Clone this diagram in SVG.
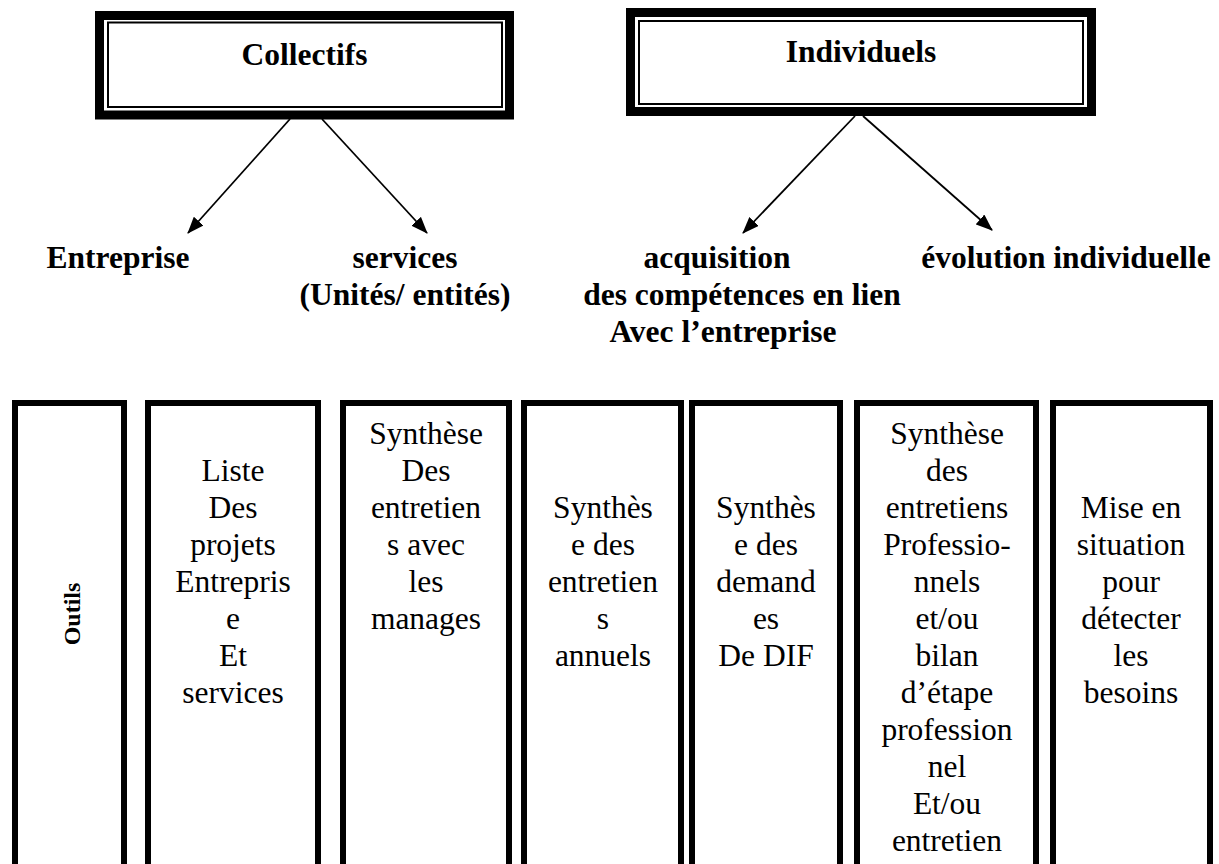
<svg xmlns="http://www.w3.org/2000/svg" width="1219" height="864" viewBox="0 0 1219 864">
<style>
.bg{fill:#fff}
.thick{fill:none;stroke:#000;stroke-width:9}
.thin{fill:none;stroke:#000;stroke-width:2}
.col{fill:none;stroke:#000;stroke-width:6}
.title{font-family:"Liberation Serif","Times New Roman",serif;font-weight:bold;font-size:31.5px;text-anchor:middle}
.lbl{font-family:"Liberation Serif","Times New Roman",serif;font-weight:bold;font-size:31.5px;text-anchor:middle}
.vert{font-family:"Liberation Serif","Times New Roman",serif;font-weight:bold;font-size:24px;text-anchor:middle}
.ct{font-family:"Liberation Serif","Times New Roman",serif;font-size:31.5px;text-anchor:middle}
.conn{stroke:#000;stroke-width:1.8;fill:none;marker-end:url(#ah)}
</style>
<defs>
<marker id="ah" markerWidth="17" markerHeight="13" refX="16" refY="6.5" orient="auto" markerUnits="userSpaceOnUse">
<path d="M0,0 L17,6.5 L0,13 Z" fill="#000"/>
</marker>
</defs>
<rect class="bg" x="0" y="0" width="1219" height="864"/>
<g id="collectifs">
<rect class="thick" x="99.5" y="15.5" width="410" height="99.5"/>
<rect class="thin" x="108" y="22.5" width="394" height="84.5"/>
<text class="title" x="304.5" y="65">Collectifs</text>
</g>
<g id="individuels">
<rect class="thick" x="630.5" y="12.5" width="461" height="99"/>
<rect class="thin" x="639" y="21" width="444" height="83"/>
<text class="title" x="861" y="62">Individuels</text>
</g>
<g id="connectors">
<line class="conn" x1="290" y1="119" x2="188" y2="233"/>
<line class="conn" x1="322" y1="119" x2="427" y2="233"/>
<line class="conn" x1="855" y1="116" x2="743" y2="233"/>
<line class="conn" x1="863" y1="116" x2="992" y2="230"/>
</g>
<g id="entreprise"><text class="lbl" x="118" y="268">Entreprise</text></g>
<g id="services"><text class="lbl" x="405" y="268">services</text><text class="lbl" x="405" y="305">(Unités/ entités)</text></g>
<g id="acquisition"><text class="lbl" x="717" y="268">acquisition</text><text class="lbl" x="742" y="305">des compétences en lien</text><text class="lbl" x="723" y="342">Avec l’entreprise</text></g>
<g id="evolution"><text class="lbl" x="1066" y="268">évolution individuelle</text></g>
<g id="outils">
<rect class="col" x="15" y="403" width="109" height="500"/>
<text class="vert" transform="translate(80,614) rotate(-90)">Outils</text>
</g>
<g id="liste">
<rect class="col" x="148" y="403" width="170" height="500"/>
<text class="ct"><tspan x="233" y="481">Liste</tspan><tspan x="233" y="518">Des</tspan><tspan x="233" y="555">projets</tspan><tspan x="233" y="592">Entrepris</tspan><tspan x="233" y="629">e</tspan><tspan x="233" y="666">Et</tspan><tspan x="233" y="703">services</tspan></text>
</g>
<g id="synthese-managers">
<rect class="col" x="343" y="403" width="166" height="500"/>
<text class="ct"><tspan x="426" y="444">Synthèse</tspan><tspan x="426" y="481">Des</tspan><tspan x="426" y="518">entretien</tspan><tspan x="426" y="555">s avec</tspan><tspan x="426" y="592">les</tspan><tspan x="426" y="629">manages</tspan></text>
</g>
<g id="synthese-annuels">
<rect class="col" x="524" y="403" width="157" height="500"/>
<text class="ct"><tspan x="603" y="518">Synthès</tspan><tspan x="603" y="555">e des</tspan><tspan x="603" y="592">entretien</tspan><tspan x="603" y="629">s</tspan><tspan x="603" y="666">annuels</tspan></text>
</g>
<g id="synthese-dif">
<rect class="col" x="692" y="403" width="148" height="500"/>
<text class="ct"><tspan x="766" y="518">Synthès</tspan><tspan x="766" y="555">e des</tspan><tspan x="766" y="592">demand</tspan><tspan x="766" y="629">es</tspan><tspan x="766" y="666">De DIF</tspan></text>
</g>
<g id="synthese-pro">
<rect class="col" x="857" y="403" width="179" height="500"/>
<text class="ct"><tspan x="947" y="444">Synthèse</tspan><tspan x="947" y="481">des</tspan><tspan x="947" y="518">entretiens</tspan><tspan x="947" y="555">Professio-</tspan><tspan x="947" y="592">nnels</tspan><tspan x="947" y="629">et/ou</tspan><tspan x="947" y="666">bilan</tspan><tspan x="947" y="703">d’étape</tspan><tspan x="947" y="740">profession</tspan><tspan x="947" y="777">nel</tspan><tspan x="947" y="814">Et/ou</tspan><tspan x="947" y="851">entretien</tspan></text>
</g>
<g id="mise-en-situation">
<rect class="col" x="1053" y="403" width="157" height="500"/>
<text class="ct"><tspan x="1131" y="518">Mise en</tspan><tspan x="1131" y="555">situation</tspan><tspan x="1131" y="592">pour</tspan><tspan x="1131" y="629">détecter</tspan><tspan x="1131" y="666">les</tspan><tspan x="1131" y="703">besoins</tspan></text>
</g>
</svg>
